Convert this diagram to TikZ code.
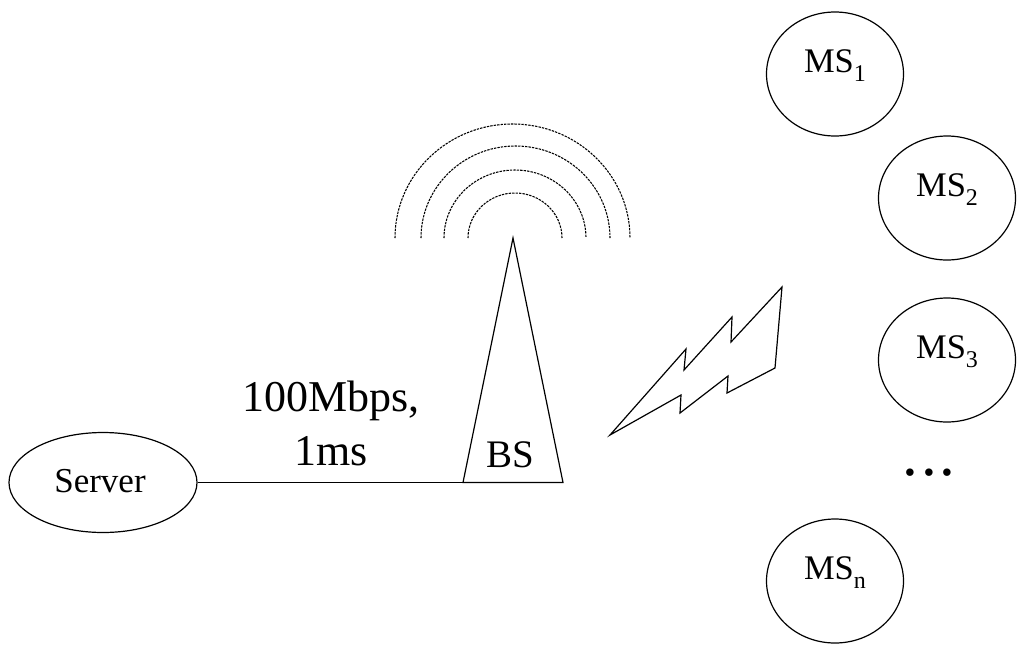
\documentclass[tikz,border=0pt]{standalone}
\usepackage{fontspec}
\setmainfont{Liberation Serif}
\usetikzlibrary{positioning,shapes.geometric}
\tikzset{
msnode/.style={
  ellipse,
  line width=0.9pt,
  inner sep=0pt,
  minimum width=137\pxu,
  minimum height=124\pxu,
  draw=black,
  text depth=25\pxu,
  font=\fontsize{34.5\pxu}{42\pxu}\selectfont,
  }
}
\tikzset{
wave/.style={
  line width=0.8pt,
  dash pattern=on 1.8pt off 0.8pt
  }
}
\newlength{\pxu}
\setlength{\pxu}{0.75pt}
\newcommand{\mslabel}[1]{MS\raisebox{-9\pxu}{\fontsize{24\pxu}{28\pxu}\selectfont #1}}
\begin{document}
\begin{tikzpicture}[x=0.75pt,y=-0.75pt]
    \useasboundingbox (0,0) rectangle (1024,654);
    \node[msnode] (ms1) at (835,74) {\mslabel{1}};
    \node[msnode] (ms2) at (947,198) {\mslabel{2}};
    \node[msnode] (ms3) at (947,360) {\mslabel{3}};
    \node[msnode] (msn) at (835,581) {\mslabel{n}};
    \node[font=\fontsize{63\pxu}{70\pxu}\selectfont] (dots) at (929,473) {.\hspace{3\pxu}.\hspace{3\pxu}.};
    \node[ellipse, draw=black, line width=0.9pt, minimum width=188\pxu, minimum height=100\pxu, inner sep=0pt, text depth=4\pxu, font=\fontsize{35\pxu}{42\pxu}\selectfont] (server) at (103,482.5) {\hspace*{-6\pxu}Server};
    \coordinate (btop) at (513,238);
    \coordinate (bleft) at (463,482.5);
    \coordinate (bright) at (563,482.5);
    \draw[line width=0.9pt] (btop) -- (bright) -- (bleft) -- cycle;
    \node[font=\fontsize{39\pxu}{44\pxu}\selectfont] (bs) at (510,455) {BS};
    \draw[line width=0.9pt] (server) -- (bleft);
    \node[align=center, font=\fontsize{44\pxu}{54\pxu}\selectfont] (link) at (331,423) {100Mbps,\\1ms};
    % radio waves above the mast
    \foreach \cx/\r/\h in {515/47/45,515/71/68,515.5/94.5/92,512.5/117.5/114} {
      \draw[wave] (\cx-\r,238) arc[start angle=180, end angle=360, x radius=\r, y radius=\h];
    }
    % lightning
    \draw[line width=0.9pt] (610,435) -- (686,349) -- (684,370) -- (732,317) -- (731,342) -- (782,287) -- (775,368) -- (727,393) -- (728,376) -- (680,413) -- (681,395) -- cycle;
\end{tikzpicture}
\end{document}
